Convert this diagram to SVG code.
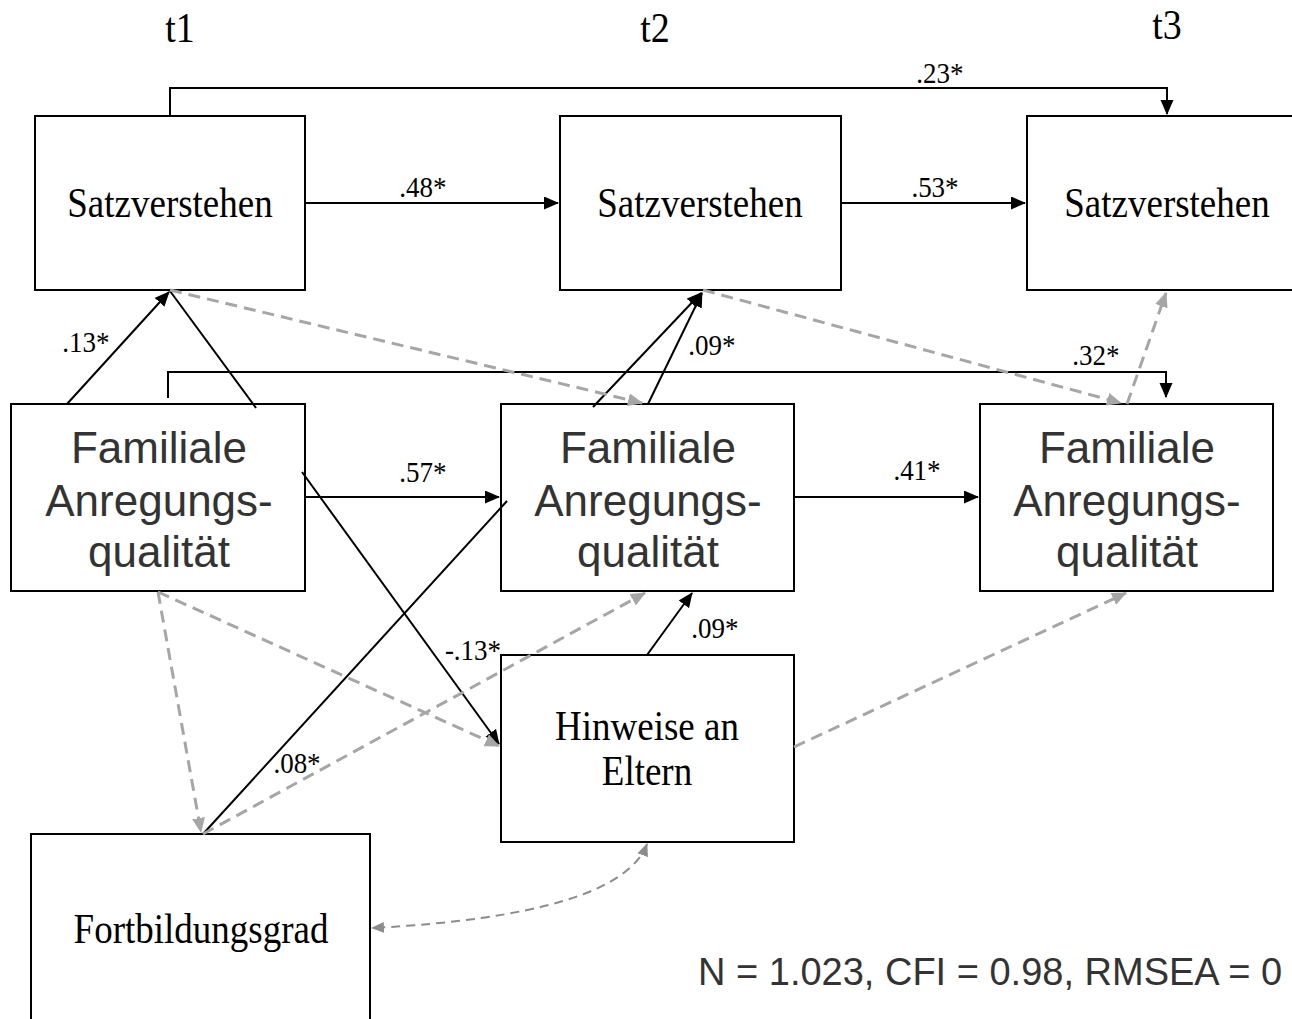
<svg xmlns="http://www.w3.org/2000/svg" width="1292" height="1019" viewBox="0 0 1292 1019">
  <style>
    .box { fill: #fff; stroke: #000; stroke-width: 2; }
    .serif { font-family: "Liberation Serif", "Times New Roman", serif; fill: #000; text-anchor: middle; }
    .sans { font-family: "Liberation Sans", Arial, sans-serif; fill: #333; text-anchor: middle; }
    .node-serif { font-size: 37px; }
    .node-sans { font-size: 44px; }
    .time { font-size: 38px; }
    .coef { font-size: 27px; }
    .path { fill: none; stroke: #000; stroke-width: 2; }
    .ns { fill: none; stroke: #a6a6a6; stroke-width: 3; stroke-dasharray: 12 7; }
    .cov { fill: none; stroke: #8c8c8c; stroke-width: 2; stroke-dasharray: 9 6; }
  </style>
  <defs>
    <marker id="arrow" markerUnits="userSpaceOnUse" markerWidth="16" markerHeight="14" refX="14" refY="6.5" orient="auto">
      <path d="M0,0 L15,6.5 L0,13 z" fill="#000"/>
    </marker>
    <marker id="arrow-grey" markerUnits="userSpaceOnUse" markerWidth="16" markerHeight="14" refX="14" refY="6.5" orient="auto">
      <path d="M0,0 L15,6.5 L0,13 z" fill="#a6a6a6"/>
    </marker>
    <marker id="arrow-cov" markerUnits="userSpaceOnUse" markerWidth="14" markerHeight="12" refX="12" refY="5.5" orient="auto-start-reverse">
      <path d="M0,0 L13,5.5 L0,11 z" fill="#8c8c8c"/>
    </marker>
  </defs>

  <rect width="1292" height="1019" fill="#fff"/>

  <!-- measurement occasions (serif labels are drawn slightly tall: scaled about their baseline) -->
  <text class="serif time" x="180" y="42" transform="matrix(1 0 0 1.1 0 -4.2)">t1</text>
  <text class="serif time" x="655" y="42" transform="matrix(1 0 0 1.1 0 -4.2)">t2</text>
  <text class="serif time" x="1167" y="39" transform="matrix(1 0 0 1.1 0 -3.9)">t3</text>

  <!-- nodes -->
  <g id="satz-t1">
    <rect class="box" x="35" y="116" width="270" height="174"/>
    <text class="serif node-serif" x="170" y="217" transform="matrix(1 0 0 1.12 0 -26.04)">Satzverstehen</text>
  </g>
  <g id="satz-t2">
    <rect class="box" x="560" y="116" width="281" height="174"/>
    <text class="serif node-serif" x="700" y="217" transform="matrix(1 0 0 1.12 0 -26.04)">Satzverstehen</text>
  </g>
  <g id="satz-t3">
    <rect class="box" x="1027" y="116" width="280" height="174"/>
    <text class="serif node-serif" x="1167" y="217" transform="matrix(1 0 0 1.12 0 -26.04)">Satzverstehen</text>
  </g>
  <g id="anregung-t1">
    <rect class="box" x="11" y="404" width="294" height="187"/>
    <text class="sans node-sans" x="159" y="463">Familiale</text>
    <text class="sans node-sans" x="159" y="516">Anregungs-</text>
    <text class="sans node-sans" x="159" y="567">qualität</text>
  </g>
  <g id="anregung-t2">
    <rect class="box" x="501" y="404" width="293" height="187"/>
    <text class="sans node-sans" x="648" y="463">Familiale</text>
    <text class="sans node-sans" x="648" y="516">Anregungs-</text>
    <text class="sans node-sans" x="648" y="567">qualität</text>
  </g>
  <g id="anregung-t3">
    <rect class="box" x="980" y="404" width="293" height="187"/>
    <text class="sans node-sans" x="1127" y="463">Familiale</text>
    <text class="sans node-sans" x="1127" y="516">Anregungs-</text>
    <text class="sans node-sans" x="1127" y="567">qualität</text>
  </g>
  <g id="hinweise">
    <rect class="box" x="501" y="655" width="293" height="187"/>
    <text class="serif node-serif" x="647" y="740" transform="matrix(1 0 0 1.12 0 -88.8)">Hinweise an</text>
    <text class="serif node-serif" x="647" y="785" transform="matrix(1 0 0 1.12 0 -94.2)">Eltern</text>
  </g>
  <g id="fortbildung">
    <rect class="box" x="31" y="834" width="339" height="200"/>
    <text class="serif node-serif" x="201" y="943" transform="matrix(1 0 0 1.12 0 -113.16)">Fortbildungsgrad</text>
  </g>

  <!-- connectors -->
  <g id="connectors">
    <!-- autoregressive paths -->
    <path class="path" d="M170,116 V88 H1167 V114" marker-end="url(#arrow)"/>
    <path class="path" d="M305,203 H558" marker-end="url(#arrow)"/>
    <path class="path" d="M841,203 H1025" marker-end="url(#arrow)"/>
    <path class="path" d="M168,398 V372 H1166 V397" marker-end="url(#arrow)"/>
    <path class="path" d="M305,497 H499" marker-end="url(#arrow)"/>
    <path class="path" d="M794,497 H978" marker-end="url(#arrow)"/>

    <!-- cross-lagged and covariate paths -->
    <path class="path" d="M67,404 L169,292" marker-end="url(#arrow)"/>
    <path class="path" d="M256,408 L170,291"/>
    <path class="path" d="M593,407 L701,293" marker-end="url(#arrow)"/>
    <path class="path" d="M648,404 L702,293" marker-end="url(#arrow)"/>
    <path class="path" d="M302,472 L499,744" marker-end="url(#arrow)"/>
    <path class="path" d="M203,834 L507,501"/>
    <path class="path" d="M647,655 L692,593" marker-end="url(#arrow)"/>

    <!-- non-significant paths -->
    <path class="ns" d="M170,290 L642,403" marker-end="url(#arrow-grey)"/>
    <path class="ns" d="M703,290 L1121,403" marker-end="url(#arrow-grey)"/>
    <path class="ns" d="M1127,404 L1166,293" marker-end="url(#arrow-grey)"/>
    <path class="ns" d="M158,592 L201,832" marker-end="url(#arrow-grey)"/>
    <path class="ns" d="M158,592 L499,746" marker-end="url(#arrow-grey)"/>
    <path class="ns" d="M203,834 L645,593" marker-end="url(#arrow-grey)"/>
    <path class="ns" d="M794,747 L1126,593" marker-end="url(#arrow-grey)"/>

    <!-- covariance -->
    <path class="cov" d="M647,844 Q620,915 372,928" marker-start="url(#arrow-cov)" marker-end="url(#arrow-cov)"/>

    <!-- coefficients (scaled about the baseline) -->
    <text class="serif coef" x="940" y="83" transform="matrix(1 0 0 1.1 0 -8.3)">.23*</text>
    <text class="serif coef" x="423" y="197" transform="matrix(1 0 0 1.1 0 -19.7)">.48*</text>
    <text class="serif coef" x="935" y="197" transform="matrix(1 0 0 1.1 0 -19.7)">.53*</text>
    <text class="serif coef" x="86" y="352" transform="matrix(1 0 0 1.1 0 -35.2)">.13*</text>
    <text class="serif coef" x="712" y="355" transform="matrix(1 0 0 1.1 0 -35.5)">.09*</text>
    <text class="serif coef" x="1096" y="365" transform="matrix(1 0 0 1.1 0 -36.5)">.32*</text>
    <text class="serif coef" x="423" y="482" transform="matrix(1 0 0 1.1 0 -48.2)">.57*</text>
    <text class="serif coef" x="917" y="480" transform="matrix(1 0 0 1.1 0 -48)">.41*</text>
    <text class="serif coef" x="473" y="660" transform="matrix(1 0 0 1.1 0 -66)">-.13*</text>
    <text class="serif coef" x="715" y="638" transform="matrix(1 0 0 1.1 0 -63.8)">.09*</text>
    <text class="serif coef" x="297" y="773" transform="matrix(1 0 0 1.1 0 -77.3)">.08*</text>
  </g>

  <text class="sans" x="698" y="985" style="font-size:38px;text-anchor:start">N = 1.023, CFI = 0.98, RMSEA = 0</text>
</svg>
